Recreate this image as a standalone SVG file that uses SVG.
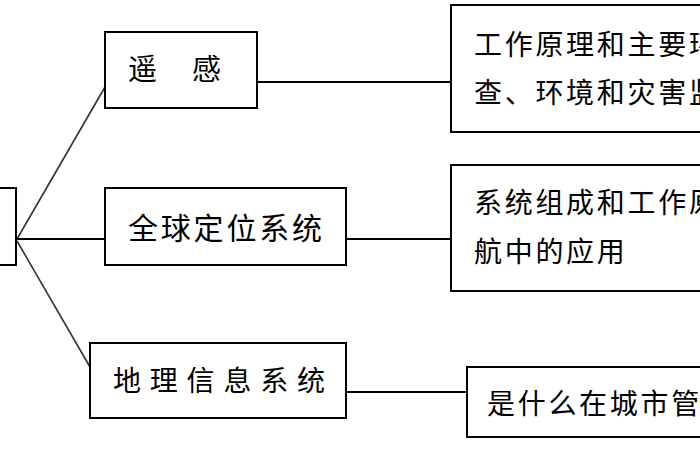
<svg xmlns="http://www.w3.org/2000/svg" width="700" height="470" viewBox="0 0 700 470">
<style>
.box{fill:#fff;stroke:#000;stroke-width:2}
.t{font-family:"Noto Sans CJK SC","Noto Sans CJK TC",sans-serif;fill:#000}
.c{stroke:#000;stroke-width:2;fill:none}
.d{stroke:#333;stroke-width:1.6;fill:none}
</style>
<rect width="700" height="470" fill="#fff"/>
<g id="connectors">
<line class="d" x1="17" y1="239" x2="105" y2="87"/>
<line class="d" x1="17" y1="241" x2="90" y2="367"/>
<line class="c" x1="16" y1="239" x2="106" y2="239"/>
<line class="c" x1="257" y1="82" x2="451" y2="82"/>
<line class="c" x1="346" y1="239" x2="451" y2="239"/>
<line class="c" x1="346" y1="392" x2="467" y2="392"/>
</g>
<g id="root">
<rect class="box" x="-20" y="188" width="36" height="77"/>
</g>
<g id="rs">
<rect class="box" x="105" y="32" width="152" height="76"/>
<text class="t" x="128" y="80" font-size="29" letter-spacing="35">遥感</text>
</g>
<g id="gps">
<rect class="box" x="105" y="188" width="241" height="77"/>
<text class="t" x="128" y="239" font-size="30" letter-spacing="2.8">全球定位系统</text>
</g>
<g id="gis">
<rect class="box" x="90" y="343" width="256" height="75"/>
<text class="t" x="113" y="391" font-size="28" letter-spacing="8.8">地理信息系统</text>
</g>
<g id="rs-desc">
<rect class="box" x="451" y="5" width="270" height="127"/>
<text class="t" font-size="28" letter-spacing="2.7"><tspan x="474" y="55">工作原理和主要环</tspan><tspan x="474" y="103">查、环境和灾害监</tspan></text>
</g>
<g id="gps-desc">
<rect class="box" x="451" y="165" width="270" height="126"/>
<text class="t" font-size="28" letter-spacing="2.7"><tspan x="474" y="213">系统组成和工作原</tspan><tspan x="474" y="262">航中的应用</tspan></text>
</g>
<g id="gis-desc">
<rect class="box" x="467" y="367" width="260" height="70"/>
<text class="t" x="487" y="414" font-size="28" letter-spacing="2.7">是什么在城市管</text>
</g>
</svg>
